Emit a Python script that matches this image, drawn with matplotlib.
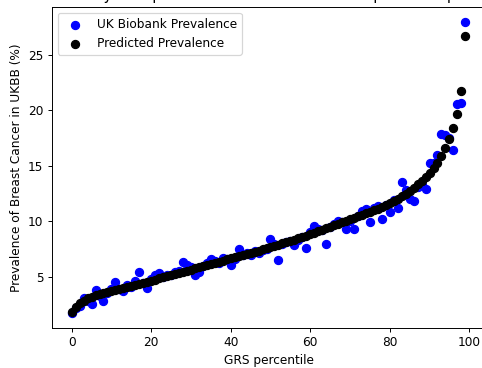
import numpy as np
import matplotlib
matplotlib.use("Agg")
import matplotlib.pyplot as plt

# GRS percentile 0..99
percentile = list(range(100))

# observed prevalence in UK Biobank (%)
ukbb_prev = [1.7, 2.2, 2.4, 3.1, 2.8, 2.55, 3.83, 3.3, 2.85, 3.5,
             3.9, 4.55, 3.9, 3.7, 4.3, 4.1, 4.6, 5.4, 4.4, 4.0,
             4.8, 5.2, 5.3, 5.0, 5.2, 5.2, 5.4, 5.5, 6.3, 6.1,
             5.9, 5.15, 5.4, 6.0, 6.2, 6.6, 6.4, 6.2, 6.7, 6.6,
             6.1, 6.6, 7.5, 7.0, 7.1, 7.0, 7.3, 7.1, 7.4, 7.5,
             8.4, 8.0, 6.5, 8.0, 8.1, 8.2, 7.9, 8.3, 8.6, 7.6,
             9.0, 9.6, 9.3, 9.2, 8.0, 9.5, 9.8, 10.0, 9.9, 9.3,
             10.0, 9.3, 10.5, 10.9, 11.1, 9.9, 11.2, 11.4, 10.2, 11.5,
             10.8, 11.9, 11.2, 13.5, 12.8, 12.0, 11.8, 13.1, 13.3, 12.9,
             15.3, 15.3, 16.0, 17.9, 17.8, 17.5, 16.4, 20.6, 20.7, 28.0]

# model predicted prevalence (%)
pred_prev = [1.8, 2.3, 2.6, 2.85, 3.05, 3.2, 3.33, 3.45, 3.56, 3.66,
             3.75, 3.84, 3.93, 4.02, 4.1, 4.19, 4.28, 4.37, 4.47, 4.56,
             4.66, 4.75, 4.85, 4.95, 5.05, 5.15, 5.25, 5.35, 5.45, 5.55,
             5.65, 5.76, 5.86, 5.96, 6.06, 6.16, 6.26, 6.36, 6.46, 6.56,
             6.66, 6.76, 6.86, 6.96, 7.06, 7.16, 7.26, 7.36, 7.47, 7.58,
             7.69, 7.8, 7.91, 8.02, 8.13, 8.24, 8.36, 8.48, 8.6, 8.72,
             8.85, 8.98, 9.11, 9.24, 9.38, 9.52, 9.66, 9.8, 9.93, 10.06,
             10.19, 10.32, 10.45, 10.58, 10.72, 10.86, 11.0, 11.15, 11.31, 11.48,
             11.66, 11.85, 12.05, 12.26, 12.5, 12.76, 13.04, 13.35, 13.65, 13.98,
             14.35, 14.8, 15.3, 15.9, 16.6, 17.4, 18.4, 19.7, 21.7, 26.7]

dpi = 87
fig = plt.figure(figsize=(482 / dpi, 368 / dpi), dpi=dpi)
ax = fig.add_axes([52 / 482, 40 / 368, 433 / 482, 321 / 368])

ax.scatter(percentile, ukbb_prev, color="blue", s=45, label="UK Biobank Prevalence")
ax.scatter(percentile, pred_prev, color="black", s=45, label="Predicted Prevalence")

ax.set_xlabel("GRS percentile")
ax.set_ylabel("Prevalence of Breast Cancer in UKBB (%)")
ax.set_title("Prevalence by GRS percentile in UKBB versus the predicted prevalence")
ax.legend(loc="upper left")

fig.savefig("out.png", dpi=dpi)
